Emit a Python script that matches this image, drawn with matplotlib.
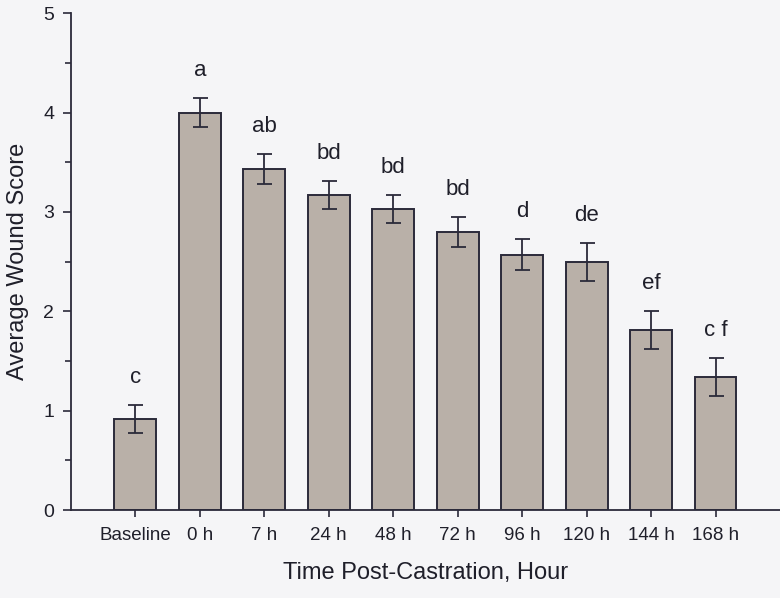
import matplotlib
matplotlib.use("Agg")
import matplotlib.pyplot as plt
from matplotlib.ticker import MultipleLocator

categories = ["Baseline", "0 h", "7 h", "24 h", "48 h", "72 h", "96 h", "120 h", "144 h", "168 h"]
means = [0.92, 4.00, 3.43, 3.17, 3.03, 2.80, 2.57, 2.50, 1.81, 1.34]
sems = [0.14, 0.15, 0.15, 0.145, 0.145, 0.15, 0.155, 0.19, 0.19, 0.19]
letters = ["c", "a", "ab", "bd", "bd", "bd", "d", "de", "ef", "c f"]

plt.rcParams['font.family'] = ['Liberation Sans', 'DejaVu Sans']
bg = "#f5f5f7"
edge = "#2b2a3a"
fig = plt.figure(figsize=(7.8, 5.98), dpi=100, facecolor=bg)
ax = fig.add_axes([0.091, 0.147, 0.909, 0.831], facecolor=bg)

x = list(range(len(categories)))
ax.bar(x, means, width=0.65, color="#b9b0a8", edgecolor=edge, linewidth=1.4, zorder=2)
ax.errorbar(x, means, yerr=sems, fmt="none", ecolor=edge, elinewidth=1.3,
            capsize=5.4, capthick=1.3, zorder=3)
for xi, m, s, t in zip(x, means, sems, letters):
    ax.text(xi, m + s + 0.22, t, ha="center", va="baseline", fontsize=16, color="#1f1f2a")

ax.set_xlim(-1, 10)
ax.set_ylim(0, 5)
ax.set_xticks(x)
ax.set_xticklabels(categories, fontsize=13.5, color="#1f1f2a")
ax.yaxis.set_major_locator(MultipleLocator(1))
ax.yaxis.set_minor_locator(MultipleLocator(0.5))
ax.tick_params(axis="y", which="major", length=6, width=1.2, labelsize=14, colors=edge, labelcolor="#1f1f2a", pad=6)
ax.tick_params(axis="y", which="minor", length=4, width=1.2, colors=edge)
ax.tick_params(axis="x", which="major", length=5, width=1.2, colors=edge, labelcolor="#1f1f2a", pad=7)
for s in ["top", "right"]:
    ax.spines[s].set_visible(False)
for s in ["left", "bottom"]:
    ax.spines[s].set_color(edge)
    ax.spines[s].set_linewidth(1.3)

ax.set_xlabel("Time Post-Castration, Hour", fontsize=17, color="#1f1f2a", labelpad=13)
ax.set_ylabel("Average Wound Score", fontsize=17, color="#1f1f2a", labelpad=10)

fig.savefig("out.png", dpi=100, facecolor=bg)
